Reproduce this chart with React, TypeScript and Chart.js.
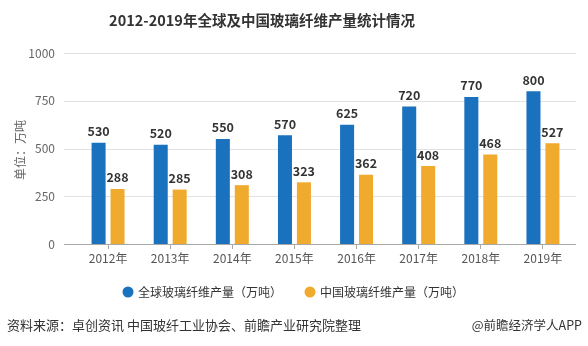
import React, { useEffect, useRef } from "react";
import { Chart, registerables } from "chart.js";

Chart.register(...registerables);

const title = "2012-2019年全球及中国玻璃纤维产量统计情况";
const categories = ["2012年", "2013年", "2014年", "2015年", "2016年", "2017年", "2018年", "2019年"];
const globalSeriesName = "全球玻璃纤维产量（万吨）";
const chinaSeriesName = "中国玻璃纤维产量（万吨）";
const globalValues = [530, 520, 550, 570, 625, 720, 770, 800];
const chinaValues = [288, 285, 308, 323, 362, 408, 468, 527];
const yTicks = [0, 250, 500, 750, 1000];
const yAxisTitle = "单位：万吨";
const sourceText = "资料来源：卓创资讯 中国玻纤工业协会、前瞻产业研究院整理";
const creditText = "@前瞻经济学人APP";

const BLUE = "#1a72bf";
const ORANGE = "#f0aa2e";
const FONT = "'Noto Sans CJK SC', 'Noto Sans', sans-serif";

const decorPlugin = {
  id: "decor",
  beforeDatasetsDraw(chart: any) {
    const ctx = chart.ctx;
    const y = chart.scales.y;
    const x0 = 64;
    const x1 = 576;
    ctx.save();
    yTicks.forEach((v) => {
      const py = Math.round(y.getPixelForValue(v)) + 0.5;
      ctx.strokeStyle = v === 0 ? "#a8a8a8" : "#e2e2e2";
      ctx.lineWidth = 1;
      ctx.beginPath();
      ctx.moveTo(x0, py);
      ctx.lineTo(x1, py);
      ctx.stroke();
    });
    ctx.restore();
  },
  afterDraw(chart: any) {
    const ctx = chart.ctx;
    ctx.save();
    // title
    ctx.fillStyle = "#333";
    ctx.font = `bold 14.5px ${FONT}`;
    ctx.textAlign = "center";
    ctx.textBaseline = "middle";
    ctx.fillText(title, 262, 20);
    // y-axis title
    ctx.save();
    ctx.translate(20, 150);
    ctx.rotate(-Math.PI / 2);
    ctx.font = `12px ${FONT}`;
    ctx.fillStyle = "#666";
    ctx.textAlign = "center";
    ctx.textBaseline = "middle";
    ctx.fillText(yAxisTitle, 0, 0);
    ctx.restore();
    // value labels
    ctx.font = `bold 12.5px ${FONT}`;
    ctx.fillStyle = "#333";
    ctx.textAlign = "center";
    ctx.textBaseline = "bottom";
    chart.data.datasets.forEach((ds: any, di: number) => {
      const meta = chart.getDatasetMeta(di);
      meta.data.forEach((bar: any, i: number) => {
        ctx.fillText(String(ds.data[i]), bar.x, bar.y - 5);
      });
    });
    // legend
    const items = [
      { color: BLUE, text: globalSeriesName, x: 128 },
      { color: ORANGE, text: chinaSeriesName, x: 310 },
    ];
    items.forEach((it) => {
      ctx.fillStyle = it.color;
      ctx.beginPath();
      ctx.arc(it.x, 292, 5.5, 0, Math.PI * 2);
      ctx.fill();
      ctx.fillStyle = "#333";
      ctx.font = `12px ${FONT}`;
      ctx.textAlign = "left";
      ctx.textBaseline = "middle";
      ctx.fillText(it.text, it.x + 10, 292);
    });
    // footer
    ctx.font = `13px ${FONT}`;
    ctx.fillStyle = "#333";
    ctx.textAlign = "left";
    ctx.textBaseline = "middle";
    ctx.fillText(sourceText, 7, 325);
    ctx.font = `12.5px ${FONT}`;
    ctx.textAlign = "right";
    ctx.fillText(creditText, 582, 325);
    ctx.restore();
  },
};

export default function App() {
  const ref = useRef<HTMLCanvasElement>(null);
  useEffect(() => {
    document.body.style.margin = "0";
    const chart = new Chart(ref.current!, {
      type: "bar",
      data: {
        labels: categories,
        datasets: [
          { label: globalSeriesName, data: globalValues, backgroundColor: BLUE },
          { label: chinaSeriesName, data: chinaValues, backgroundColor: ORANGE },
        ],
      },
      options: {
        responsive: false,
        animation: false,
        devicePixelRatio: 1,
        layout: { padding: { top: 53, right: 14, bottom: 0, left: 0 } },
        plugins: {
          legend: { display: false },
          title: { display: false },
          tooltip: { enabled: false },
        },
        datasets: {
          bar: { categoryPercentage: 0.61, barPercentage: 0.74 },
        },
        scales: {
          x: {
            grid: {
              display: true,
              offset: false,
              drawOnChartArea: false,
              drawTicks: true,
              tickLength: 5,
              color: "#a8a8a8",
            },
            border: { display: false },
            ticks: {
              color: "#555",
              font: { size: 12, family: FONT },
              padding: 2,
              maxRotation: 0,
            },
            afterFit: (s: any) => {
              s.height = 102;
            },
          },
          y: {
            min: 0,
            max: 1000,
            grid: { display: false, drawTicks: false },
            border: { display: false },
            ticks: {
              stepSize: 250,
              color: "#666",
              font: { size: 12, family: FONT },
              padding: 22,
              callback: (v: any) => String(v),
            },
            afterFit: (s: any) => {
              s.width = 77;
            },
          },
        },
      },
      plugins: [decorPlugin],
    });
    return () => chart.destroy();
  }, []);
  return (
    <div style={{ position: "absolute", left: 0, top: 0, width: 588, height: 346, background: "#fff" }}>
      <canvas ref={ref} width={588} height={346} />
    </div>
  );
}
